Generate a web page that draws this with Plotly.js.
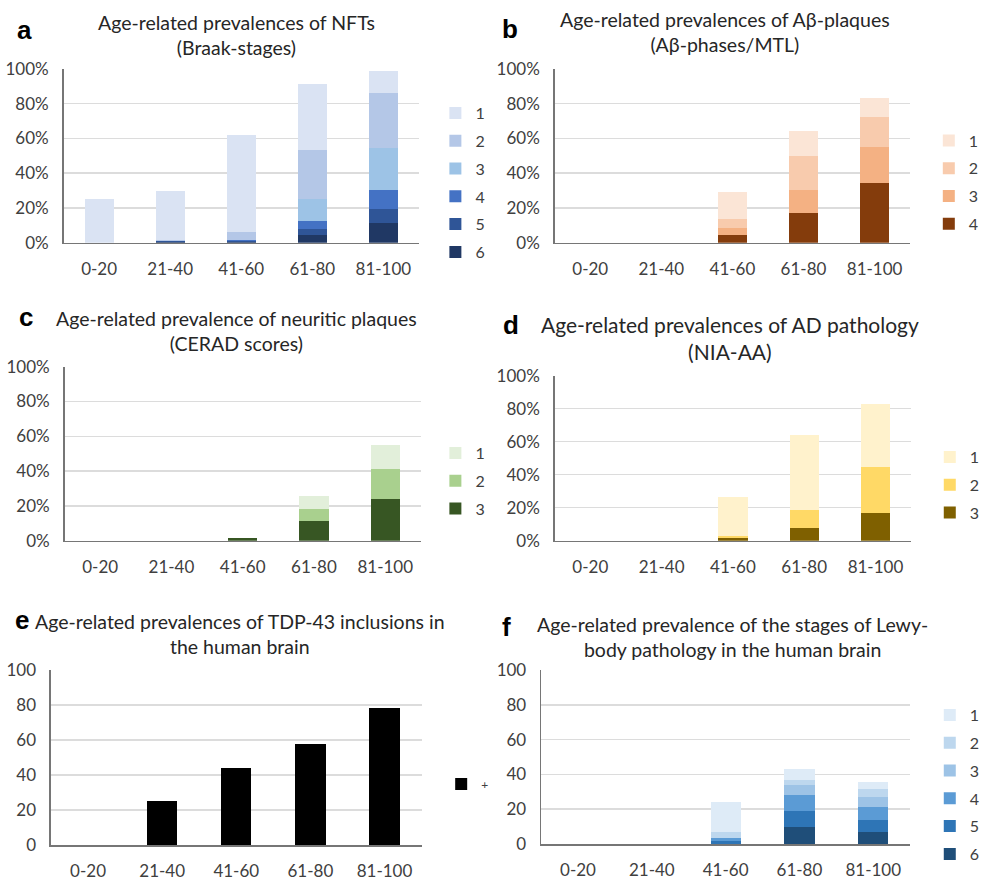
<!DOCTYPE html>
<html>
<head>
<meta charset="utf-8">
<script src="https://cdn.plot.ly/plotly-3.0.1.min.js"></script>
<style>
html,body{margin:0;padding:0;background:#fff;}
#chart{width:985px;height:881px;}
</style>
</head>
<body>
<div id="chart"></div>
<script>
// ---------- data ----------
const ageGroups = ['0-20', '21-40', '41-60', '61-80', '81-100'];
const yTickVals = [0, 20, 40, 60, 80, 100];
const yTickPct = ['0%', '20%', '40%', '60%', '80%', '100%'];
const yTickNum = ['0', '20', '40', '60', '80', '100'];

// a: NFTs (Braak stages), % of cases
const nftStage1 = [25, 28.5, 55.8, 38, 13];
const nftStage2 = [0, 0.4, 4.5, 28.4, 31.5];
const nftStage3 = [0, 0, 0.2, 12.3, 24.2];
const nftStage4 = [0, 0.4, 0.3, 4.8, 10.9];
const nftStage5 = [0, 0.4, 0.5, 3.5, 7.9];
const nftStage6 = [0, 0.3, 0.5, 4.4, 11.5];

// b: Abeta phases (MTL)
const abPhase1 = [0, 0, 15.4, 14.2, 10.7];
const abPhase2 = [0, 0, 5.2, 19.6, 17.1];
const abPhase3 = [0, 0, 4.2, 13.4, 20.8];
const abPhase4 = [0, 0, 4.2, 16.9, 34.5];

// c: CERAD scores
const cerad1 = [0, 0, 0, 7.3, 14.2];
const cerad2 = [0, 0, 0, 7.1, 17.2];
const cerad3 = [0, 0, 1.3, 11.3, 23.8];

// d: NIA-AA
const nia1 = [0, 0, 23.5, 45, 38.2];
const nia2 = [0, 0, 1.2, 11.3, 27.4];
const nia3 = [0, 0, 1.6, 7.5, 17];

// e: TDP-43
const tdpPositive = [0, 25, 44, 57.7, 78.5];

// f: Lewy body stages
const lewy1 = [0, 0, 17.2, 6.3, 4.1];
const lewy2 = [0, 0, 3.2, 2.9, 4.7];
const lewy3 = [0, 0, 0, 6.1, 5.4];
const lewy4 = [0, 0, 2, 8.8, 7.6];
const lewy5 = [0, 0, 1.5, 9.5, 7.1];
const lewy6 = [0, 0, 0, 9.6, 6.7];

const stageNames6 = ['1', '2', '3', '4', '5', '6'];
const stageNames4 = ['1', '2', '3', '4'];
const stageNames3 = ['1', '2', '3'];

// ---------- styles ----------
const W = 985, H = 881;
const FONT = 'Lato, "Open Sans", sans-serif';
const TXT = '#404040';

const panels = [
  {ax: '', series: [nftStage1, nftStage2, nftStage3, nftStage4, nftStage5, nftStage6], names: stageNames6,
   colors: ['#dae3f3', '#b4c7e7', '#9dc3e6', '#4472c4', '#2f5597', '#203864'],
   xd: [65.7, 433], yd: [69, 242.7], pct: true, legend: 'legend', legX: 450, legY: 182.5},
  {ax: '2', series: [abPhase1, abPhase2, abPhase3, abPhase4], names: stageNames4,
   colors: ['#fbe5d6', '#f8cbad', '#f4b183', '#843c0c'],
   xd: [573.3, 940.7], yd: [69, 242.7], pct: true, legend: 'legend2', legX: 960, legY: 182.5},
  {ax: '3', series: [cerad1, cerad2, cerad3], names: stageNames3,
   colors: ['#e2efda', '#a9d08e', '#375623'],
   xd: [66.7, 435], yd: [366.7, 540.7], pct: true, legend: 'legend3', legX: 450, legY: 481},
  {ax: '4', series: [nia1, nia2, nia3], names: stageNames3,
   colors: ['#fff2cc', '#ffd966', '#7f6000'],
   xd: [573.3, 941.7], yd: [375.7, 540.7], pct: true, legend: 'legend4', legX: 961, legY: 485},
  {ax: '5', series: [tdpPositive], names: ['+'],
   colors: ['#000000'],
   xd: [52.7, 435.7], yd: [670, 845], pct: false, legend: 'legend5', legX: 456, legY: 784},
  {ax: '6', series: [lewy1, lewy2, lewy3, lewy4, lewy5, lewy6], names: stageNames6,
   colors: ['#deebf7', '#bdd7ee', '#9dc3e6', '#5b9bd5', '#2e75b6', '#1f4e79'],
   xd: [559.3, 940.7], yd: [670, 844], pct: false, legend: 'legend6', legX: 961, legY: 784.5}
];

const traces = [];
const layout = {
  width: W, height: H,
  margin: {l: 0, r: 0, t: 0, b: 0},
  paper_bgcolor: '#ffffff', plot_bgcolor: '#ffffff',
  barmode: 'stack', bargap: 0.59,
  font: {family: FONT, color: TXT, size: 17},
  annotations: [], shapes: []
};

panels.forEach(p => {
  // bottom stage first so it stacks at the base
  for (let i = p.series.length - 1; i >= 0; i--) {
    traces.push({
      type: 'bar', x: ageGroups, y: p.series[i], name: p.names[i],
      marker: {color: p.colors[i], line: {width: 0}},
      xaxis: 'x' + p.ax, yaxis: 'y' + p.ax,
      legend: p.legend, legendgroup: p.legend + '_' + i, legendrank: 1000 + i,
      hoverinfo: 'x+y+name'
    });
  }
  layout['xaxis' + p.ax] = {
    domain: [p.xd[0] / W, p.xd[1] / W], anchor: 'y' + p.ax,
    type: 'category', showgrid: false, zeroline: false,
    showline: true, linecolor: '#767676', linewidth: 1.5,
    ticks: '', ticklabelstandoff: 10,
    tickfont: {family: FONT, size: 17, color: TXT}, fixedrange: true
  };
  layout['yaxis' + p.ax] = {
    domain: [1 - p.yd[1] / H, 1 - p.yd[0] / H], anchor: 'x' + p.ax,
    range: [0, 100], tickmode: 'array', tickvals: yTickVals,
    ticktext: p.pct ? yTickPct : yTickNum,
    showgrid: true, gridcolor: '#dcdcdc', gridwidth: 1.5,
    zeroline: false, showline: true, linecolor: '#767676', linewidth: 1.5,
    ticks: '', ticklabelstandoff: 10,
    tickfont: {family: FONT, size: 17, color: TXT}, fixedrange: true
  };
  layout[p.legend] = {
    x: p.legX / W, y: 1 - p.legY / H, xanchor: 'left', yanchor: 'middle',
    xref: 'paper', yref: 'paper',
    traceorder: 'grouped', tracegroupgap: p.ax === '5' ? 0 : 4,
    font: {family: FONT, size: p.ax === '5' ? 12 : 16, color: TXT},
    bgcolor: 'rgba(0,0,0,0)', borderwidth: 0, itemclick: false, itemdoubleclick: false
  };
});

const titles = [
  {t: 'Age-related prevalences of NFTs<br>(Braak-stages)', x: 244, y: 35, s: 19.5},
  {t: 'Age-related prevalences of Aβ-plaques<br>(Aβ-phases/MTL)', x: 749, y: 32, s: 19.5},
  {t: 'Age-related prevalence of neuritic plaques<br>(CERAD scores)', x: 244, y: 330.5, s: 19.5},
  {t: 'Age-related prevalences of AD pathology<br>(NIA-AA)', x: 755, y: 337.5, s: 21},
  {t: 'Age-related prevalences of TDP-43 inclusions in<br>the human brain', x: 248, y: 633.5, s: 19.5},
  {t: 'Age-related prevalence of the stages of Lewy-<br>body pathology in the human brain', x: 757, y: 637, s: 19.5}
];
titles.forEach(o => layout.annotations.push({
  text: o.t, xref: 'paper', yref: 'paper', x: o.x / W, y: 1 - o.y / H,
  xanchor: 'center', yanchor: 'middle', showarrow: false,
  font: {family: FONT, size: o.s, color: '#262626'}
}));

const letters = [
  {t: 'a', x: 25, y: 30}, {t: 'b', x: 527, y: 29}, {t: 'c', x: 27, y: 317},
  {t: 'd', x: 528, y: 325}, {t: 'e', x: 23, y: 620}, {t: 'f', x: 523, y: 627}
];
letters.forEach(o => layout.annotations.push({
  text: '<b>' + o.t + '</b>', xref: 'paper', yref: 'paper', x: o.x / W, y: 1 - o.y / H,
  xanchor: 'center', yanchor: 'middle', showarrow: false,
  font: {family: '"Liberation Sans", Arial, sans-serif', size: 26, color: '#000000'}
}));

Plotly.newPlot('chart', traces, layout, {staticPlot: true, displayModeBar: false});
</script>
</body>
</html>
